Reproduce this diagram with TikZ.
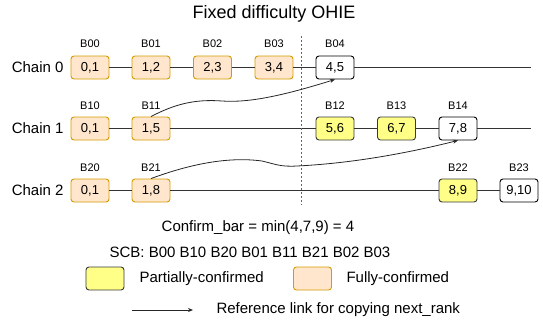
\documentclass[tikz,border=0pt]{standalone}
\usepackage{fontspec}
\setmainfont{Liberation Sans}
\usetikzlibrary{arrows.meta}
\definecolor{fullfill}{HTML}{FFE6CC}
\definecolor{fulldraw}{HTML}{D79B00}
\definecolor{partfill}{HTML}{FFFF88}
\definecolor{partdraw}{HTML}{36393D}
\tikzset{
    blk/.style = {rounded corners = 3pt, line width = 0.9pt, minimum width = 38pt, minimum height = 23pt, inner sep = 0pt, font = \fontsize{13}{15}\selectfont},
    fullblk/.style = {blk, draw = fulldraw, fill = fullfill},
    partblk/.style = {blk, draw = partdraw, fill = partfill},
    newblk/.style = {blk, draw = black, fill = white},
    lbl/.style = {font = \fontsize{11}{13}\selectfont},
    txt/.style = {font = \fontsize{15}{17}\selectfont},
    chain/.style = {draw = black!80, line width = 0.8pt},
    reflink/.style = {draw = black!85, line width = 0.8pt, -{Stealth[length = 5pt, width = 4pt]}}
}
\begin{document}
\begin{tikzpicture}[x = 1pt, y = -1pt]
    \useasboundingbox (0,0) rectangle (543,324);
    \node[font = \fontsize{18}{20}\selectfont] (title) at (274,14) {Fixed difficulty OHIE};
    % chain 0
    \node[txt, anchor = east] (c0) at (67,67.5) {Chain 0};
    \node[fullblk] (b00) at (90,67.5) {0,1};
    \node[fullblk] (b01) at (151,67.5) {1,2};
    \node[fullblk] (b02) at (212.5,67.5) {2,3};
    \node[fullblk] (b03) at (274,67.5) {3,4};
    \node[newblk] (b04) at (335,67.5) {4,5};
    \coordinate (e0) at (531,67.5);
    \node[lbl] (n00) at (90,44) {B00};
    \node[lbl] (n01) at (151,44) {B01};
    \node[lbl] (n02) at (212.5,44) {B02};
    \node[lbl] (n03) at (274,44) {B03};
    \node[lbl] (n04) at (335,44) {B04};
    % chain 1
    \node[txt, anchor = east] (c1) at (67,128.5) {Chain 1};
    \node[fullblk] (b10) at (90,128.5) {0,1};
    \node[fullblk] (b11) at (151,128.5) {1,5};
    \node[partblk] (b12) at (335,128.5) {5,6};
    \node[partblk] (b13) at (396.5,128.5) {6,7};
    \node[newblk] (b14) at (458,128.5) {7,8};
    \coordinate (e1) at (531,128.5);
    \node[lbl] (n10) at (90,106) {B10};
    \node[lbl] (n11) at (151,106) {B11};
    \node[lbl] (n12) at (335,106) {B12};
    \node[lbl] (n13) at (396.5,106) {B13};
    \node[lbl] (n14) at (458,106) {B14};
    % chain 2
    \node[txt, anchor = east] (c2) at (67,190.5) {Chain 2};
    \node[fullblk] (b20) at (90,190.5) {0,1};
    \node[fullblk] (b21) at (151,190.5) {1,8};
    \node[partblk] (b22) at (458,190.5) {8,9};
    \node[newblk] (b23) at (519,190.5) {9,10};
    \node[lbl] (n20) at (90,168) {B20};
    \node[lbl] (n21) at (151,168) {B21};
    \node[lbl] (n22) at (458,168) {B22};
    \node[lbl] (n23) at (519,168) {B23};
    \begin{scope}[style = chain]
        \draw (b00) -- (b01) -- (b02) -- (b03) -- (b04) -- (e0);
        \draw (b10) -- (b11) -- (b12) -- (b13) -- (b14) -- (e1);
        \draw (b20) -- (b21) -- (b22) -- (b23);
    \end{scope}
    % confirm bar
    \coordinate (bartop) at (301,36);
    \coordinate (barbot) at (301,205);
    \draw[black!60, dashed, dash pattern = on 2pt off 2pt, line width = 0.8pt] (bartop) -- (barbot);
    % reference links
    \draw[reflink] (b11.north) .. controls (175,104) and (195,99) .. (222,101)
        .. controls (250,103) and (285,95) .. (b04.south);
    \draw[reflink] (b21.north) .. controls (185,166) and (225,156) .. (262,161)
        .. controls (275,164) and (280,167) .. (297,166)
        .. controls (360,163) and (420,150) .. (b14.south);
    % text and legend
    \node[txt] (cbar) at (258,228) {Confirm\_bar = min(4,7,9) = 4};
    \node[txt] (scb) at (250,252) {SCB: B00 B10 B20 B01 B11 B21 B02 B03};
    \node[partblk] (kpart) at (105,278.5) {};
    \node[txt, anchor = west] (tpart) at (136,278.5) {Partially-confirmed};
    \node[fullblk] (kfull) at (312.5,278.5) {};
    \node[txt, anchor = west] (tfull) at (343,278.5) {Fully-confirmed};
    \coordinate (ka) at (132,310);
    \coordinate (kb) at (193,310);
    \draw[reflink] (ka) -- (kb);
    \node[txt, anchor = west] (tref) at (213,310) {Reference link for copying next\_rank};
\end{tikzpicture}
\end{document}
